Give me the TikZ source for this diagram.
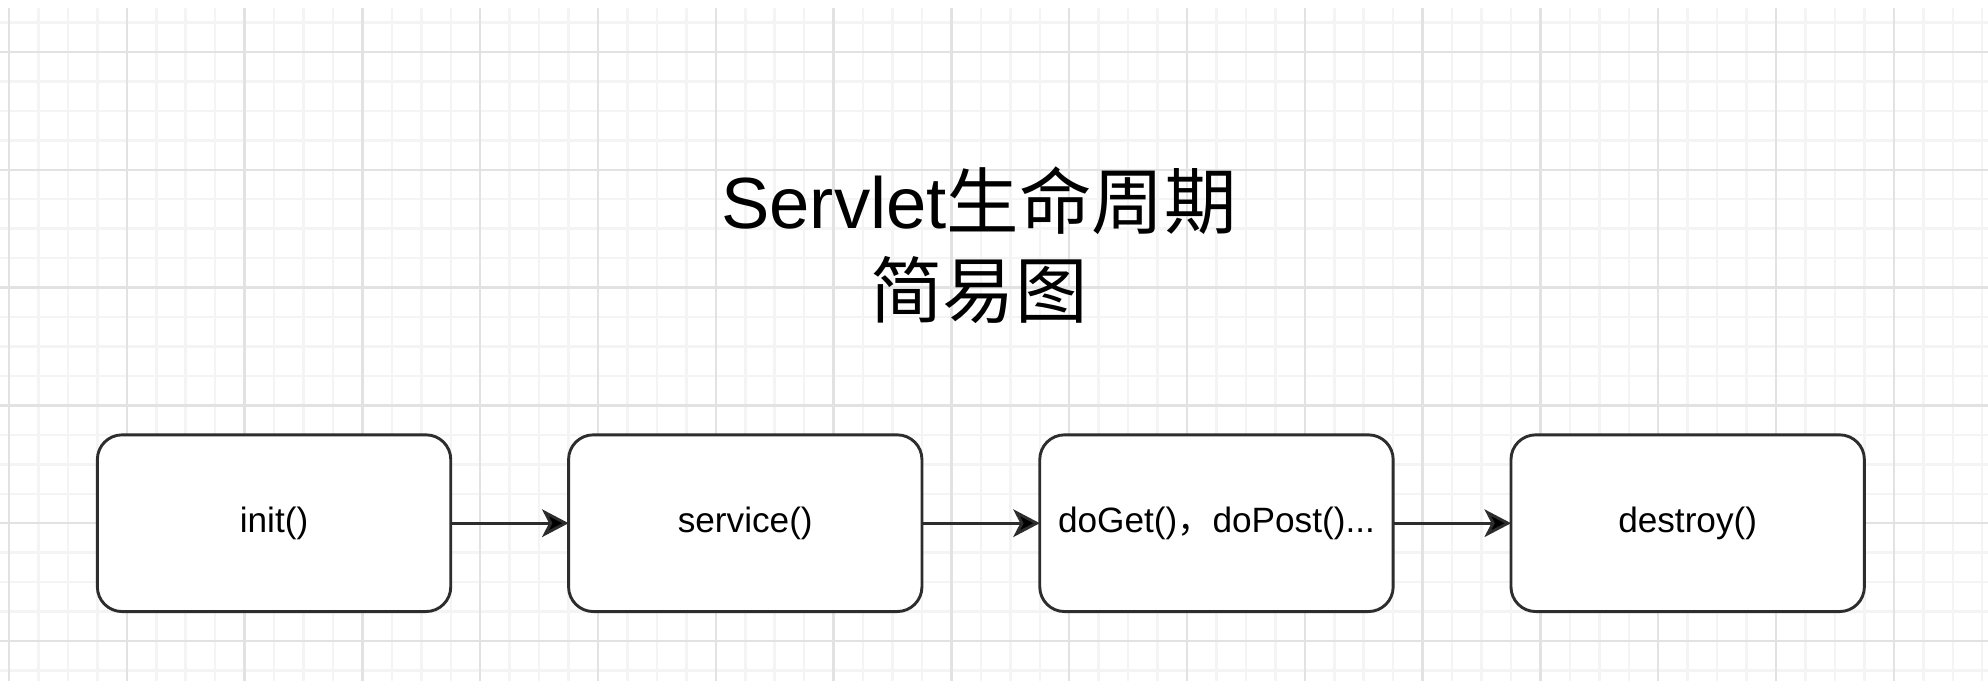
\documentclass[tikz,border=0pt]{standalone}
\usepackage{fontspec}
\setmainfont{Liberation Sans}
\newfontfamily\cjk{Noto Sans CJK SC}
\usepackage{xcolor}
\usepackage{tikz}
\usetikzlibrary{positioning, arrows.meta}
\definecolor{lcLine}{RGB}{45, 45, 45}
\definecolor{lcInk}{RGB}{0, 0, 0}
\definecolor{lcGridMajor}{RGB}{226, 226, 226}
\definecolor{lcGridMinor}{RGB}{244, 244, 244}
\tikzset{
    base/.style={
        font=\rmfamily,
        text=lcInk,
        align=center
    },
    stage/.style={
        base,
        font=\fontsize{17}{20}\selectfont,
        rectangle,
        rounded corners=0.42cm,
        draw=lcLine,
        line width=1.4pt,
        fill=white,
        minimum width=6cm,
        minimum height=3cm,
        outer sep=0pt,
        inner sep=0pt
    },
    headline/.style={
        base,
        font=\fontsize{35}{43}\selectfont,
        inner sep=0pt
    },
    flow/.style={
        -{Stealth[length=0.45cm, width=0.47cm, inset=0.12cm, fill=lcInk]},
        line width=1.4pt,
        color=lcLine
    },
    minorline/.style={
        line width=1.2pt,
        color=lcGridMinor
    },
    majorline/.style={
        line width=1.2pt,
        color=lcGridMajor
    }
}

\begin{document}
\begin{tikzpicture}
  \useasboundingbox (0,0) rectangle (33.752,11.562);
  \fill[white] (0,0) rectangle (33.752,11.562);

  \foreach \k in {0,...,67}
    \draw[minorline] ({0.153+0.5*\k},0) -- ({0.153+0.5*\k},11.426);
  \foreach \k in {0,...,22}
    \draw[minorline] (0,{0.179+0.5*\k}) -- (33.752,{0.179+0.5*\k});
  \foreach \k in {0,...,16}
    \draw[majorline] ({0.153+2*\k},0) -- ({0.153+2*\k},11.426);
  \foreach \k in {0,...,5}
    \draw[majorline] (0,{0.679+2*\k}) -- (33.752,{0.679+2*\k});

  \node[headline] (title) at (16.62,7.40) {Servlet{\cjk 生命周期}\\{\cjk 简易图}};

  \node[stage] (init) at (4.653,2.679) {init()};
  \node[stage, right=2cm of init] (service) {service()};
  \node[stage, right=2cm of service] (doget) {doGet(){\cjk ，}doPost()...};
  \node[stage, right=2cm of doget] (destroy) {destroy()};

  \draw[flow] (init) -- (service);
  \draw[flow] (service) -- (doget);
  \draw[flow] (doget) -- (destroy);
\end{tikzpicture}
\end{document}
